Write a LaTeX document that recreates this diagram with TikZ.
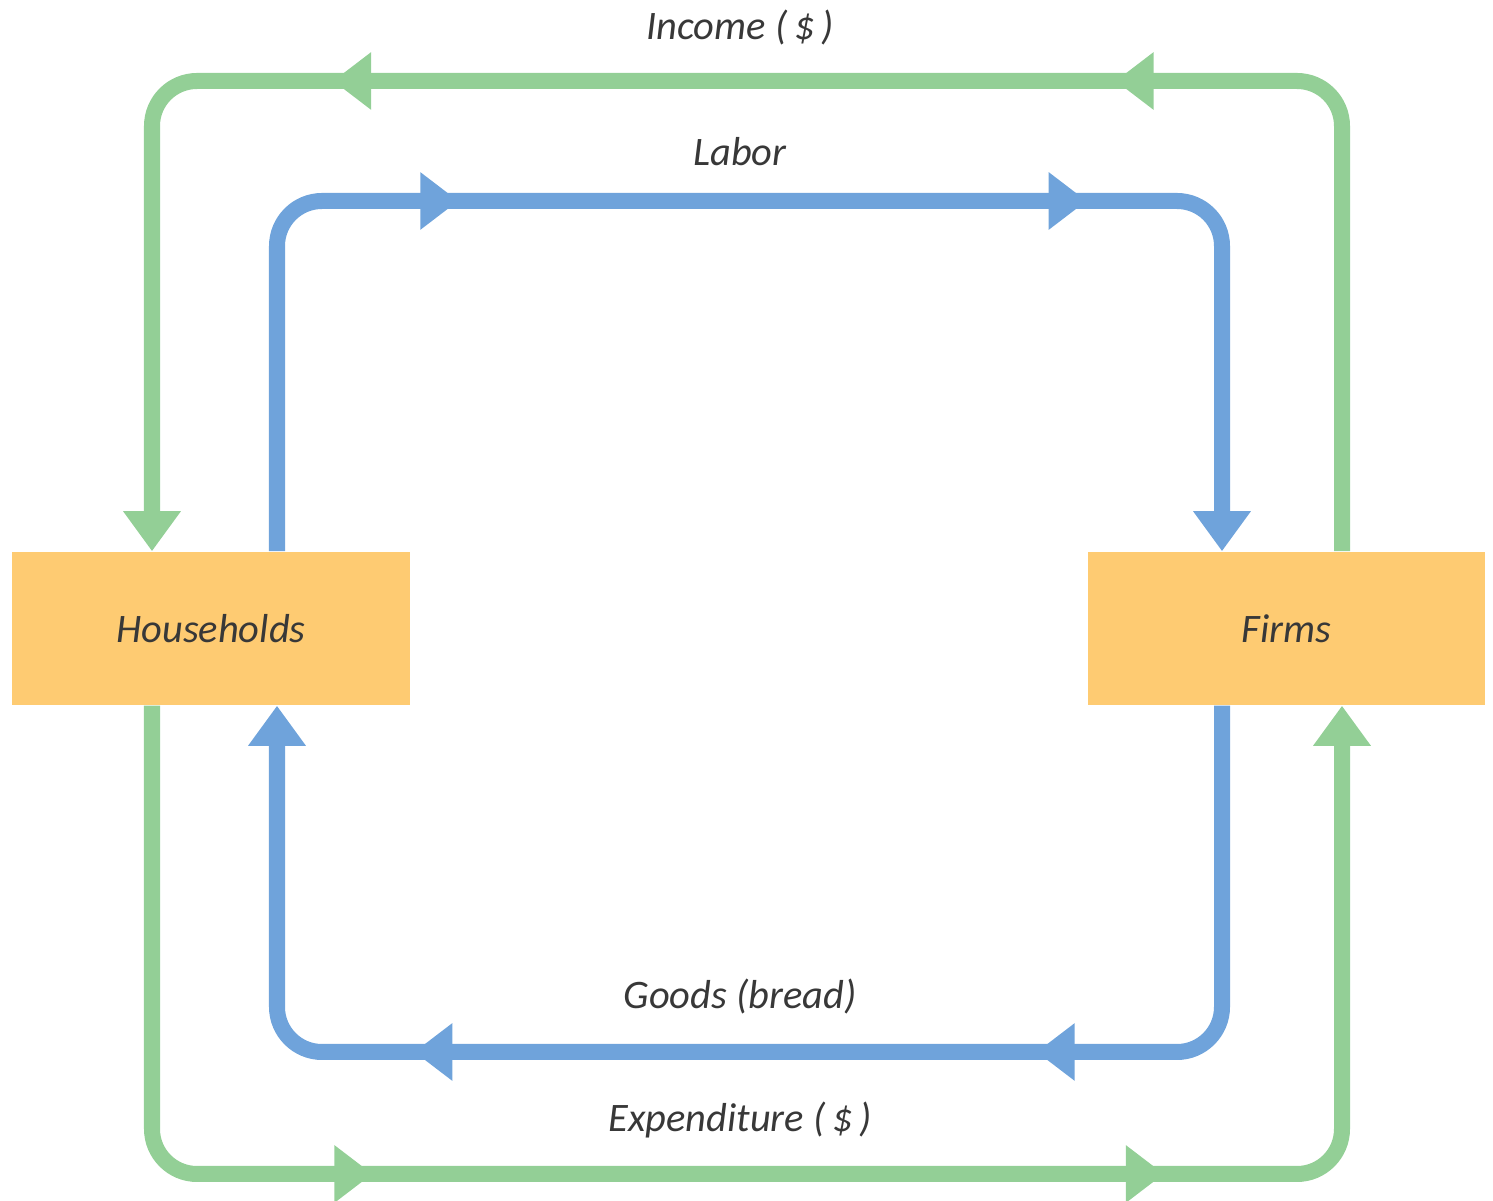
\documentclass[tikz,border=0pt]{standalone}
\usepackage{fontspec}
\setmainfont{Carlito}
\usetikzlibrary{arrows.meta,decorations.markings}
\definecolor{flowgreen}{HTML}{93CF96}
\definecolor{flowblue}{HTML}{6FA3DB}
\definecolor{boxorange}{HTML}{FECB72}
\definecolor{labelgray}{HTML}{383838}
\tikzset{
  sector/.style={shape=rectangle,fill=boxorange,inner sep=0pt,minimum height=1.53cm,font=\fontsize{11.5}{14}\selectfont\itshape,text=labelgray},
  flowlabel/.style={font=\fontsize{11.5}{14}\selectfont\itshape,text=labelgray},
  flow/.style={line width=0.16cm,rounded corners=0.45cm,-{Triangle[length=0.4cm,width=0.55cm]}},
  midheads/.style 2 args={postaction={decorate},decoration={markings,
    mark=at position #1 with {\arrow{Triangle[length=0.38cm,width=0.55cm]}},
    mark=at position #2 with {\arrow{Triangle[length=0.38cm,width=0.55cm]}}}}
}
\begin{document}
\begin{tikzpicture}[x=0.01cm,y=-0.01cm]
\useasboundingbox (0,0) rectangle (1493,1201);
\node(hh) at (211,628.5)[sector,minimum width=3.98cm]        {Households};
\node(firms) at (1286.5,628.5)[sector,minimum width=3.97cm]  {Firms};
% corners of the two loops
\coordinate (gTL) at (152,81);
\coordinate (gTR) at (1342,81);
\coordinate (gBL) at (152,1174);
\coordinate (gBR) at (1342,1174);
\coordinate (bTL) at (277,201);
\coordinate (bTR) at (1222,201);
\coordinate (bBL) at (277,1052);
\coordinate (bBR) at (1222,1052);
% money
\draw[flow,flowgreen,midheads={6.77cm}{14.59cm}]
  (firms.north -| gTR) -- (gTR) -- (gTL) -- (hh.north -| gTL);
\draw[flow,flowgreen,midheads={6.69cm}{14.60cm}]
  (hh.south -| gBL) -- (gBL) -- (gBR) -- (firms.south -| gBR);
% real flows
\draw[flow,flowblue,midheads={5.12cm}{11.40cm}]
  (hh.north -| bTL) -- (bTL) -- (bTR) -- (firms.north -| bTR);
\draw[flow,flowblue,midheads={5.12cm}{11.34cm}]
  (firms.south -| bBR) -- (bBR) -- (bBL) -- (hh.south -| bBL);
\node(income) at (740,28)[flowlabel]   {Income (\,\$\,)};
\node(labor) at (740,152)[flowlabel]   {Labor};
\node(goods) at (740,997)[flowlabel]   {Goods (bread)};
\node(spend) at (740,1120)[flowlabel]  {Expenditure (\,\$\,)};
\end{tikzpicture}
\end{document}
